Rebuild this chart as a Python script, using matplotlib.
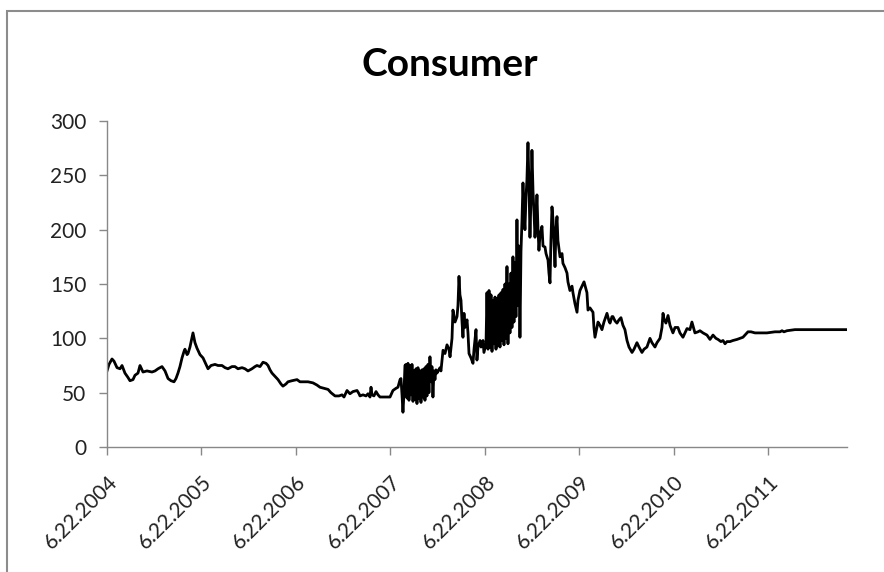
import matplotlib
matplotlib.use("Agg")
import matplotlib.pyplot as plt
import matplotlib.patches as patches
import numpy as np
import pandas as pd

start = pd.Timestamp("2004-06-22")

# years elapsed since 22 Jun 2004 and index level
years_a = [0, .021, .053, .074, .106, .138, .159, .190, .222, .243, .275, .296, .328, .349,
           .381, .423, .476, .508, .540, .582, .614, .646, .677, .709, .730, .751, .772, .794,
           .815, .825, .847, .857, .878, .910, .931, .952, .984, 1.016, 1.037, 1.069, 1.101,
           1.143, 1.175, 1.217, 1.249, 1.280, 1.323, 1.354, 1.386, 1.429, 1.460, 1.492, 1.534,
           1.566, 1.587, 1.619, 1.651, 1.683, 1.704, 1.725, 1.746, 1.778, 1.810, 1.841, 1.862,
           1.894, 1.915, 1.958, 2.011, 2.042, 2.074, 2.127, 2.180, 2.222, 2.254, 2.296, 2.339,
           2.370, 2.413, 2.455, 2.487, 2.508, 2.540, 2.571, 2.603, 2.646, 2.667, 2.677, 2.709,
           2.741, 2.762, 2.783, 2.794, 2.804, 2.825, 2.847, 2.868, 2.889, 2.942, 2.995, 3.026,
           3.058, 3.079, 3.101, 3.111, 3.122, 3.132, 3.143, 3.153]
level_a = [70, 76, 81, 79, 73, 72, 75, 68, 64, 61, 62, 66, 68, 75,
           69, 70, 69, 70, 72, 74, 70, 63, 61, 60, 63, 68, 74, 82,
           88, 90, 85, 86, 92, 105, 96, 91, 85, 82, 78, 72, 75,
           76, 75, 75, 73, 72, 74, 74, 72, 73, 72, 70, 72,
           74, 75, 74, 78, 77, 75, 71, 68, 65, 62, 58, 56,
           58, 60, 61, 62, 60, 60, 60, 59, 57, 55, 54, 53,
           50, 47, 47, 48, 46, 52, 49, 51, 52, 49, 47, 48,
           47, 49, 46, 55, 48, 47, 51, 48, 46, 46, 46, 52,
           54, 55, 62, 63, 48, 32, 50, 75]

# mid 2007: daily swings
band1_span = (3.164, 3.481)
band1 = [76, 45, 77, 43, 75, 48, 76, 42, 70, 44, 72, 40, 73, 45, 70, 41, 71, 46, 72, 43,
         74, 47, 76, 50, 83, 60, 74, 46, 70, 62, 71]

years_b = [3.492, 3.524, 3.534, 3.556, 3.577, 3.598, 3.619, 3.630, 3.651, 3.661, 3.683,
           3.704, 3.714, 3.725, 3.735, 3.746, 3.757, 3.767, 3.778, 3.788, 3.810, 3.820,
           3.831, 3.852, 3.873, 3.884, 3.905, 3.915, 3.926, 3.947, 3.958, 3.979, 3.989,
           4.011, 4.021]
level_b = [68, 73, 70, 89, 86, 94, 90, 83, 100, 126, 115,
           120, 130, 157, 140, 135, 115, 101, 123, 110, 117, 105,
           86, 82, 77, 90, 108, 80, 92, 98, 92, 98, 87,
           95, 142]

# mid 2008: daily swings
band2_span = (4.032, 4.370)
band2 = [90, 144, 92, 140, 88, 135, 95, 138, 90, 137, 93, 140, 92, 142, 98, 145, 94, 150,
         100, 166, 95, 150, 105, 160, 110, 175, 115, 170, 120, 209, 130, 185, 101]

years_c = [4.381, 4.392, 4.402, 4.413, 4.423, 4.434, 4.444, 4.455, 4.466, 4.476, 4.487,
           4.497, 4.508, 4.519, 4.529, 4.540, 4.550, 4.561, 4.571, 4.582, 4.603, 4.614,
           4.635, 4.646, 4.667, 4.677, 4.688, 4.698, 4.709, 4.720, 4.730, 4.741, 4.751,
           4.762, 4.772, 4.794, 4.815, 4.825, 4.847, 4.868, 4.878, 4.899, 4.921, 4.931,
           4.952, 4.974, 4.984, 5.005, 5.026, 5.048, 5.069, 5.079, 5.090, 5.111, 5.143,
           5.153, 5.164, 5.185, 5.196, 5.217, 5.238, 5.259, 5.291, 5.312, 5.323, 5.344,
           5.354, 5.376, 5.397, 5.418, 5.439, 5.460, 5.481, 5.503, 5.524, 5.556, 5.577,
           5.608, 5.630, 5.661, 5.683, 5.714, 5.746, 5.767, 5.799, 5.820, 5.852, 5.873,
           5.884, 5.894, 5.915, 5.937, 5.958, 5.989, 6.011, 6.042, 6.063, 6.095, 6.116,
           6.138, 6.169, 6.190, 6.212, 6.222, 6.254, 6.275, 6.307, 6.349, 6.381, 6.413,
           6.444, 6.466, 6.497, 6.519, 6.540, 6.561, 6.593, 6.624, 6.667, 6.698, 6.730,
           6.762, 6.783, 6.815, 6.857, 6.910, 6.984, 7.069, 7.122, 7.143, 7.164, 7.196,
           7.280, 7.831]
level_c = [180, 210, 243, 215, 200, 230, 246, 280, 240, 193, 230,
           273, 236, 215, 193, 210, 232, 200, 181, 195, 203, 185,
           184, 178, 172, 160, 151, 190, 221, 209, 190, 166, 200,
           212, 190, 175, 178, 169, 165, 160, 152, 144, 148, 142,
           132, 124, 135, 144, 148, 152, 145, 142, 126, 128, 124,
           110, 101, 110, 115, 112, 108, 115, 123, 116, 114, 120,
           120, 116, 114, 117, 119, 112, 108, 98, 92, 87, 90,
           96, 92, 87, 90, 92, 100, 96, 92, 96, 100, 110,
           123, 118, 114, 121, 112, 105, 110, 110, 105, 101, 105,
           109, 108, 115, 108, 105, 106, 107, 105, 103, 99, 103,
           100, 99, 97, 98, 95, 97, 97, 98, 99, 100, 101,
           104, 106, 106, 105, 105, 105, 106, 106, 107, 106, 107,
           108, 108]

tick_years = list(range(2004, 2012))

years = np.concatenate([
    years_a,
    np.linspace(band1_span[0], band1_span[1], len(band1)),
    years_b,
    np.linspace(band2_span[0], band2_span[1], len(band2)),
    years_c,
])
levels = np.concatenate([level_a, band1, level_b, band2, level_c])
dates = start + pd.to_timedelta(years * 365.25, unit="D")

plt.rcParams["font.family"] = ["Lato", "DejaVu Sans"]

fig = plt.figure(figsize=(8.84, 5.72), dpi=100)
ax = fig.add_axes([107 / 884, 1 - 447 / 572, 740 / 884, 326 / 572])

ax.plot(dates, levels, color="black", linewidth=2.0)

ax.set_ylim(0, 300)
ax.set_yticks(range(0, 301, 50))
ax.set_xlim(start, dates[-1])
ticks = [pd.Timestamp(f"{y}-06-22") for y in tick_years]
ax.set_xticks(ticks)
ax.set_xticklabels([f"6.22.{y}" for y in tick_years], rotation=45, ha="right",
                   rotation_mode="anchor")

axis_grey = "#888888"
for side in ["top", "right"]:
    ax.spines[side].set_visible(False)
for side in ["left", "bottom"]:
    ax.spines[side].set_color(axis_grey)
    ax.spines[side].set_linewidth(1.0)
ax.tick_params(axis="both", colors=axis_grey, length=6, width=1.0, direction="out",
               labelcolor="#222222", labelsize=15)
ax.tick_params(axis="y", pad=9)
ax.tick_params(axis="x", pad=12)

fig.text(450 / 884, 1 - 64 / 572, "Consumer", ha="center", va="center",
         fontsize=28, fontweight="bold", color="black")

# chart frame
fig.patches.append(patches.Rectangle((7.5 / 884, -0.1), 1.2, 1.1 - 11.5 / 572,
                                     transform=fig.transFigure, fill=False,
                                     edgecolor="#8c8c8c", linewidth=1.5))

fig.savefig("out.png", dpi=100)
